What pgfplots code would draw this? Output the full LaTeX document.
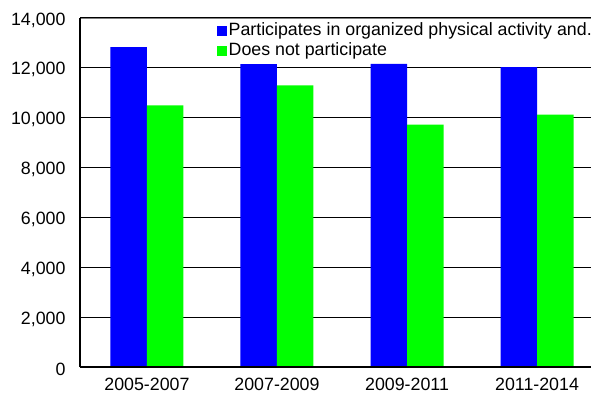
\documentclass[border=0pt]{standalone}
\usepackage{fontspec}
\setmainfont{Liberation Sans}
\usepackage{pgfplots}
\pgfplotsset{compat=1.18}
\definecolor{barblue}{HTML}{0000FF}
\definecolor{bargreen}{HTML}{00FF00}
\definecolor{topgray}{HTML}{808080}
\begin{document}
\begin{tikzpicture}[font=\fontsize{17.8}{21}\selectfont]
\path[use as bounding box] (0,0) rectangle (591pt,400pt);
\begin{axis}[
    at={(80pt,33pt)}, anchor=south west,
    scale only axis, width=511pt, height=349pt,
    ybar=0pt, bar width=36.5pt,
    xmin=-0.515, xmax=3.415,
    ymin=0, ymax=14000,
    xtick={0,1,2,3},
    xticklabels={2005-2007,2007-2009,2009-2011,2011-2014},
    ytick={0,2000,...,14000},
    major tick length=0pt,
    axis x line*=bottom, axis y line*=left,
    axis line style={line width=1.6pt, black},
    ymajorgrids, grid style={black, line width=1.2pt},
    /pgf/number format/1000 sep={,},
    /pgf/number format/assume math mode=true,
    scaled y ticks=false,
    yticklabel style={xshift=-11pt, yshift=-2pt},
    xticklabel style={yshift=-8pt},
    legend style={at={(axis description cs:0.268,0.991)}, anchor=north west,
        draw=none, fill=none, inner sep=0pt, row sep=0pt,
        nodes={inner sep=1.5pt, text height=13pt, text depth=4pt}},
    legend cell align=left,
    legend image code/.code={\fill[#1] (0pt,-5pt) rectangle (10pt,5pt);},
]
\addplot[fill=barblue, draw=none] coordinates {(0,12830) (1,12150) (2,12160) (3,12030)};
\addplot[fill=bargreen, draw=none] coordinates {(0,10500) (1,11300) (2,9720) (3,10120)};
\legend{{Participates in organized physical activity and.},{Does not participate}}
\draw[topgray, line width=1.6pt] (rel axis cs:0,1) -- (rel axis cs:1,1);
\draw[black, line width=1.6pt] (rel axis cs:0,1) -- (rel axis cs:0,0) -- (rel axis cs:1,0);
\end{axis}
\end{tikzpicture}
\end{document}
